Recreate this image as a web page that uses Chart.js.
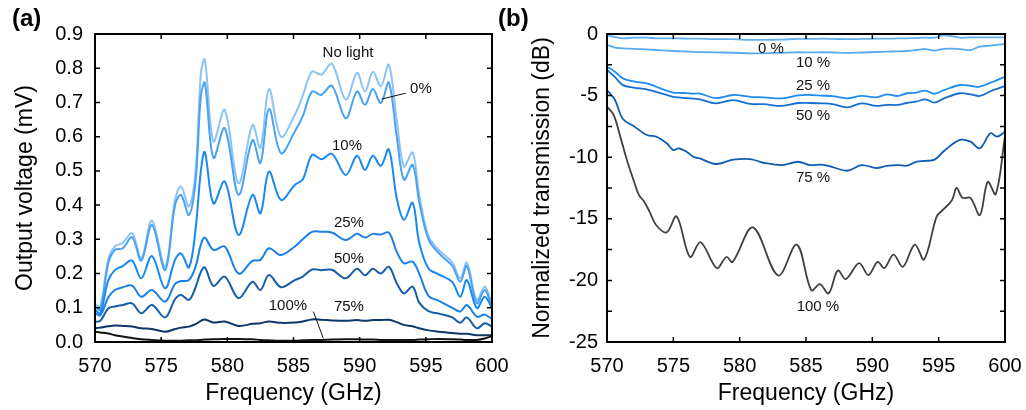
<!DOCTYPE html>
<html>
<head>
<meta charset="utf-8">
<script src="https://cdn.jsdelivr.net/npm/chart.js@4.4.1/dist/chart.umd.min.js"></script>
<style>
  body { margin: 0; background: #fff; }
  #wrap { position: relative; width: 1026px; height: 410px; overflow: hidden; }
  canvas { position: absolute; top: 0; }
  #cA { left: 0; }
  #cB { left: 500px; }
  .tag { position: absolute; top: 3px; font: bold 24px "Liberation Sans", Arial, sans-serif; line-height: 30px; color: #000; }
</style>
</head>
<body>
<div id="wrap">
  <canvas id="cA" width="520" height="410"></canvas>
  <canvas id="cB" width="526" height="410"></canvas>
  <div class="tag" style="left:12px">(a)</div>
  <div class="tag" style="left:498px">(b)</div>
</div>
<script>
//----- DATA: (a) output voltage -----//
const freqA = [570, 570.4, 571, 571.5, 572.1, 572.8, 573.5, 574.3, 575.3, 576.05, 576.5, 577.1, 577.6, 578, 578.3,
  578.95, 579.8, 580.85, 581.9, 582.5, 583.15, 584.05, 585.1, 585.7, 586.4, 587.1, 587.9, 588.95, 589.8, 590.4,
  591, 591.6, 592.2, 592.8, 593.35, 594, 594.5, 595.2, 596, 597, 597.6, 598.1, 598.85, 599.45, 600];

const voltNoLight = [0.11, 0.104, 0.24, 0.279, 0.29, 0.318, 0.245, 0.355, 0.22, 0.415, 0.455, 0.396, 0.5, 0.786, 0.825,
  0.586, 0.678, 0.464, 0.634, 0.567, 0.739, 0.6, 0.664, 0.72, 0.79, 0.781, 0.813, 0.708, 0.786, 0.732,
  0.79, 0.747, 0.81, 0.649, 0.513, 0.554, 0.43, 0.31, 0.268, 0.232, 0.186, 0.232, 0.122, 0.162, 0.11];
const volt0 = [0.104, 0.094, 0.23, 0.269, 0.274, 0.306, 0.238, 0.342, 0.21, 0.4, 0.43, 0.371, 0.47, 0.72, 0.757,
  0.538, 0.625, 0.43, 0.59, 0.523, 0.681, 0.552, 0.615, 0.66, 0.732, 0.722, 0.749, 0.654, 0.732, 0.693,
  0.739, 0.698, 0.758, 0.6, 0.474, 0.518, 0.41, 0.3, 0.259, 0.222, 0.176, 0.222, 0.113, 0.152, 0.103];
const volt10 = [0.094, 0.084, 0.18, 0.21, 0.222, 0.238, 0.186, 0.251, 0.157, 0.24, 0.259, 0.218, 0.33, 0.5, 0.555,
  0.405, 0.469, 0.313, 0.43, 0.376, 0.498, 0.415, 0.459, 0.475, 0.547, 0.534, 0.55, 0.488, 0.544, 0.503,
  0.544, 0.515, 0.563, 0.42, 0.357, 0.407, 0.29, 0.215, 0.197, 0.175, 0.132, 0.181, 0.099, 0.132, 0.099];
const volt25 = [0.085, 0.078, 0.13, 0.152, 0.16, 0.165, 0.132, 0.152, 0.118, 0.17, 0.178, 0.181, 0.22, 0.285, 0.305,
  0.269, 0.279, 0.2, 0.237, 0.24, 0.274, 0.254, 0.279, 0.3, 0.322, 0.322, 0.32, 0.298, 0.316, 0.305,
  0.316, 0.314, 0.32, 0.264, 0.23, 0.235, 0.2, 0.135, 0.12, 0.1, 0.089, 0.108, 0.074, 0.08, 0.067];
const volt50 = [0.059, 0.062, 0.098, 0.104, 0.108, 0.113, 0.084, 0.108, 0.072, 0.125, 0.137, 0.123, 0.16, 0.205, 0.218,
  0.164, 0.191, 0.128, 0.176, 0.152, 0.196, 0.16, 0.181, 0.191, 0.212, 0.21, 0.211, 0.186, 0.214, 0.195,
  0.214, 0.2, 0.22, 0.172, 0.142, 0.162, 0.115, 0.09, 0.083, 0.072, 0.056, 0.072, 0.04, 0.055, 0.045];
const volt75 = [0.04, 0.042, 0.046, 0.048, 0.047, 0.045, 0.04, 0.038, 0.03, 0.038, 0.042, 0.045, 0.052, 0.062, 0.066,
  0.057, 0.06, 0.047, 0.053, 0.055, 0.06, 0.056, 0.057, 0.06, 0.066, 0.065, 0.063, 0.062, 0.064, 0.062,
  0.064, 0.064, 0.065, 0.058, 0.05, 0.046, 0.04, 0.034, 0.03, 0.026, 0.024, 0.024, 0.02, 0.02, 0.02];
const volt100 = [0.03, 0.028, 0.025, 0.02, 0.016, 0.012, 0.008, 0.006, 0.004, 0.004, 0.004, 0.005, 0.005, 0.006, 0.007,
  0.008, 0.009, 0.009, 0.008, 0.006, 0.005, 0.004, 0.004, 0.005, 0.006, 0.006, 0.007, 0.008, 0.008, 0.007,
  0.007, 0.006, 0.006, 0.006, 0.006, 0.006, 0.007, 0.008, 0.009, 0.008, 0.007, 0.006, 0.006, 0.01, 0.018];

//----- DATA: (b) normalized transmission -----//
const freqB = [570, 570.6, 571.2, 572, 573, 573.7, 574.5, 575, 575.4, 576, 576.5, 577, 578.2, 579.5, 580.8, 581.8,
  583.2, 584.4, 585.3, 586.2, 587, 588.1, 589.2, 590.3, 591.1, 591.9, 592.6, 593.3, 594, 594.7, 595.4,
  596.6, 597.4, 598.1, 598.9, 599.4, 600];

const trans0 = [-0.1, -0.25, -0.35, -0.3, -0.3, -0.35, -0.35, -0.35, -0.35, -0.38, -0.38, -0.38, -0.42, -0.42, -0.48, -0.48,
  -0.45, -0.4, -0.4, -0.38, -0.4, -0.42, -0.4, -0.38, -0.38, -0.36, -0.35, -0.33, -0.3, -0.3, -0.1,
  -0.3, -0.28, -0.28, -0.27, -0.27, -0.27];
const trans10 = [-0.89, -1.1, -1.16, -1.2, -1.25, -1.3, -1.35, -1.38, -1.4, -1.42, -1.45, -1.47, -1.49, -1.52, -1.57, -1.57,
  -1.52, -1.48, -1.49, -1.48, -1.5, -1.54, -1.5, -1.46, -1.43, -1.41, -1.38, -1.3, -1.22, -1.35, -1.2,
  -1.22, -1.3, -1.03, -0.95, -0.88, -0.8];
const trans25 = [-2.65, -3.06, -3.6, -3.85, -4.0, -4.28, -4.6, -4.75, -4.78, -4.8, -4.84, -4.84, -5.2, -4.95, -5.1, -5.14,
  -5.22, -4.98, -4.95, -5.0, -5.05, -5.22, -5.03, -5.14, -4.9, -5.03, -4.81, -4.75, -4.6, -4.85, -4.55,
  -4.14, -4.2, -4.28, -3.95, -3.75, -3.46];
const trans50 = [-2.92, -3.5, -4.15, -4.35, -4.5, -4.7, -4.95, -5.1, -5.15, -5.2, -5.25, -5.3, -5.63, -5.36, -5.68, -5.7,
  -5.84, -5.6, -5.6, -5.63, -5.7, -5.95, -5.63, -5.84, -5.75, -5.76, -5.6, -5.49, -5.3, -5.57, -5.22,
  -4.81, -4.9, -5.03, -4.65, -4.45, -4.22];
const trans75 = [-4.55, -5.36, -6.9, -7.47, -8.2, -8.33, -8.87, -9.42, -9.28, -9.55, -9.96, -10.1, -10.55, -10.2, -10.15, -10.45,
  -10.64, -10.37, -10.64, -10.6, -10.8, -11.1, -10.64, -10.88, -10.7, -10.64, -10.69, -10.37, -10.3, -10.2, -9.5,
  -8.6, -8.74, -9.28, -8.06, -8.33, -7.93];

const freqB100 = [570, 570.5, 571, 571.5, 572, 572.4, 572.8, 573.2, 573.7, 574.5, 575.25, 576.25, 577.05, 578.27, 579, 579.47,
  581, 582.9, 584.3, 585.4, 586.05, 586.7, 587.4, 588, 589, 589.7, 590.4, 590.9, 591.6, 592.3, 593.2,
  593.9, 594.85, 595.3, 596, 596.35, 596.8, 597.4, 598.1, 598.7, 599.3, 600];
const trans100 = [-5.9, -6.57, -8.33, -10.23, -11.86, -13.06, -13.6, -14.4, -15.5, -16.1, -14.8, -18.1, -16.9, -19.0, -18.1, -18.5,
  -15.7, -19.6, -17.1, -20.8, -20.3, -21.05, -19.2, -19.9, -18.6, -19.56, -18.5, -19.0, -17.9, -18.9, -17.1,
  -18.3, -14.8, -14.3, -13.5, -12.5, -13.3, -13.3, -14.7, -12.0, -13.0, -8.3];

//----- HELPERS -----//
const FONT = '"Liberation Sans", Arial, sans-serif';
const pts = (xs, ys) => xs.map((x, i) => ({ x: x, y: ys[i] }));
const line = (label, xs, ys, color, width) => ({
  label: label,
  data: pts(xs, ys),
  borderColor: color,
  borderWidth: width,
  pointRadius: 0,
  fill: false,
  tension: 0.35
});

// box around the plot with inward tick marks on all four sides
const frame = {
  id: 'frame',
  afterDraw(chart, args, opts) {
    const { ctx, chartArea: a, scales: { x, y } } = chart;
    ctx.save();
    ctx.strokeStyle = '#000';
    ctx.lineWidth = 1.5;
    ctx.beginPath();
    x.ticks.forEach(t => {
      const px = x.getPixelForValue(t.value);
      ctx.moveTo(px, a.bottom); ctx.lineTo(px, a.bottom - 5);
      ctx.moveTo(px, a.top); ctx.lineTo(px, a.top + 5);
    });
    for (let v = y.min; v <= y.max + 1e-9; v += opts.yStep) {
      const py = y.getPixelForValue(v);
      ctx.moveTo(a.left, py); ctx.lineTo(a.left + 5, py);
      ctx.moveTo(a.right, py); ctx.lineTo(a.right - 5, py);
    }
    ctx.stroke();
    ctx.lineWidth = 2;
    ctx.strokeRect(a.left, a.top, a.right - a.left, a.bottom - a.top);
    ctx.restore();
  }
};

// curve names and leader lines, placed in data units
const tags = {
  id: 'tags',
  afterDatasetsDraw(chart, args, opts) {
    const { ctx, scales: { x, y } } = chart;
    ctx.save();
    ctx.font = '15px ' + FONT;
    ctx.fillStyle = '#111';
    ctx.textAlign = 'center';
    ctx.textBaseline = 'middle';
    opts.text.forEach(([s, fx, fy]) => ctx.fillText(s, x.getPixelForValue(fx), y.getPixelForValue(fy)));
    ctx.strokeStyle = '#111';
    ctx.lineWidth = 1;
    ctx.beginPath();
    (opts.leaders || []).forEach(([x1, y1, x2, y2]) => {
      ctx.moveTo(x.getPixelForValue(x1), y.getPixelForValue(y1));
      ctx.lineTo(x.getPixelForValue(x2), y.getPixelForValue(y2));
    });
    ctx.stroke();
    ctx.restore();
  }
};

const xScale = (titlePad) => ({
  type: 'linear', min: 570, max: 600,
  grid: { display: false, drawTicks: false }, border: { display: false },
  ticks: { stepSize: 5, color: '#000', font: { family: FONT, size: 20 }, padding: 12, maxRotation: 0 },
  title: { display: true, text: 'Frequency (GHz)', color: '#000', font: { family: FONT, size: 23 }, padding: { top: titlePad, bottom: titlePad } },
  afterFit(s) { s.height = 68; s.paddingLeft = 0; s.paddingRight = 0; }
});

const yScale = (opts) => ({
  min: opts.min, max: opts.max,
  grid: { display: false, drawTicks: false }, border: { display: false },
  ticks: { stepSize: opts.step, color: '#000', font: { family: FONT, size: 20 }, padding: opts.pad, callback: opts.fmt },
  title: { display: true, text: opts.title, color: '#000', font: { family: FONT, size: 23 }, padding: { top: opts.titlePad, bottom: opts.titlePad } },
  afterFit(s) { s.width = opts.width; }
});

//----- CONFIG -----//
const configA = {
  type: 'line',
  data: {
    datasets: [
      line('100%', freqA, volt100, '#141414', 2),
      line('75%', freqA, volt75, '#0d3766', 2),
      line('50%', freqA, volt50, '#155ea8', 2),
      line('25%', freqA, volt25, '#1a80e6', 2),
      line('10%', freqA, volt10, '#1888f2', 2),
      line('0%', freqA, volt0, '#4aa2f0', 2),
      line('No light', freqA, voltNoLight, '#8cc3f6', 2)
    ]
  },
  options: {
    responsive: false,
    animation: false,
    devicePixelRatio: 1,
    layout: { padding: { top: 34, right: 28, left: 0, bottom: 0 } },
    scales: {
      x: xScale(3),
      y: yScale({ min: 0, max: 0.9, step: 0.1, pad: 12, width: 95, titlePad: 12,
        title: 'Output voltage (mV)', fmt: v => v.toFixed(1) })
    },
    plugins: {
      legend: { display: false },
      tooltip: { enabled: false },
      frame: { yStep: 0.1 },
      tags: {
        text: [
          ['No light', 589.12, 0.845], ['0%', 594.63, 0.74], ['10%', 589.04, 0.573],
          ['25%', 589.19, 0.348], ['50%', 589.19, 0.243], ['100%', 584.58, 0.105], ['75%', 589.19, 0.102]
        ],
        leaders: [[591.67, 0.71, 593.48, 0.727], [586.5, 0.089, 587.25, 0.011]]
      }
    }
  },
  plugins: [frame, tags]
};

const configB = {
  type: 'line',
  data: {
    datasets: [
      line('100 %', freqB100, trans100, '#404040', 1.8),
      line('75 %', freqB, trans75, '#0f5db3', 1.8),
      line('50 %', freqB, trans50, '#146fd4', 1.8),
      line('25 %', freqB, trans25, '#1e8cf0', 1.8),
      line('10 %', freqB, trans10, '#5aaaf0', 1.8),
      line('0 %', freqB, trans0, '#62b0f2', 1.8)
    ]
  },
  options: {
    responsive: false,
    animation: false,
    devicePixelRatio: 1,
    layout: { padding: { top: 34, right: 21, left: 0, bottom: 0 } },
    scales: {
      x: xScale(3),
      y: yScale({ min: -25, max: 0, step: 5, pad: 9, width: 107, titlePad: 29,
        title: 'Normalized transmission (dB)', fmt: v => String(v) })
    },
    plugins: {
      legend: { display: false },
      tooltip: { enabled: false },
      frame: { yStep: 2.5 },
      tags: {
        text: [
          ['0 %', 582.36, -1.22], ['10 %', 585.53, -2.35], ['25 %', 585.53, -4.22],
          ['50 %', 585.53, -6.66], ['75 %', 585.53, -11.69], ['100 %', 585.9, -22.16]
        ]
      }
    }
  },
  plugins: [frame, tags]
};

//----- RENDER -----//
const voltageChart = new Chart(document.getElementById('cA'), configA);
const transmissionChart = new Chart(document.getElementById('cB'), configB);
</script>
</body>
</html>
